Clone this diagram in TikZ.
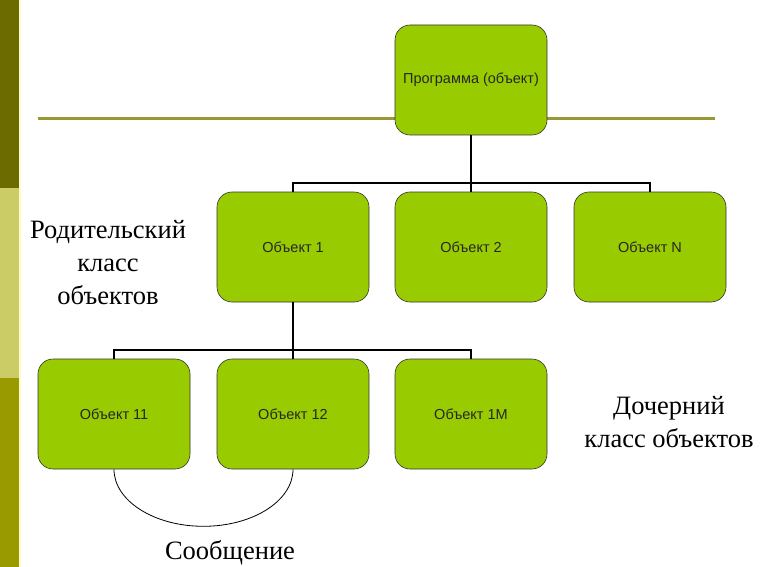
\documentclass[tikz,border=0pt]{standalone}
\usepackage{fontspec}
\setmainfont{Liberation Serif}
\newfontfamily\boxfont{Liberation Sans}
\begin{document}
\begin{tikzpicture}[x=1pt,y=-1pt,
  obj/.style={draw=black!80, line width=0.6pt, fill=boxgreen, rounded corners=15pt,
    minimum width=152pt, minimum height=110pt, font=\boxfont\fontsize{14.5}{16}\selectfont, text=black!85},
  conn/.style={draw=black, line width=2pt},
  lbl/.style={font=\fontsize{26.5}{33}\selectfont, align=center, text=black}]
\definecolor{boxgreen}{HTML}{99CC00}
\definecolor{stripeA}{HTML}{6B6B00}
\definecolor{stripeB}{HTML}{CCCC66}
\definecolor{stripeC}{HTML}{999900}
\definecolor{rulecol}{HTML}{999933}
\useasboundingbox (0,0) rectangle (766,567);
\fill[white] (0,0) rectangle (766,567);
\fill[stripeA] (0,0) rectangle (19,188);
\fill[stripeB] (0,188) rectangle (19,378);
\fill[stripeC] (0,378) rectangle (19,567);
\fill[yellow!20] (19,0) rectangle (21,567);
\draw[rulecol, line width=3pt] (38,119) -- (715,119);

\node[obj] (prog) at (471,80) {Программа (объект)};
\node[obj] (o1) at (293,247) {Объект 1};
\node[obj] (o2) at (471,247) {Объект 2};
\node[obj] (oN) at (650,247) {Объект N};
\node[obj] (o11) at (114,414) {Объект 11};
\node[obj] (o12) at (293,414) {Объект 12};
\node[obj] (o1M) at (471,414) {Объект 1M};

\coordinate (j1) at (471,183);
\coordinate (j2) at (293,350);
\draw[conn] (prog.south) -- (j1);
\draw[conn] (o1.north) -- (o1.north |- j1) -- (oN.north |- j1) -- (oN.north);
\draw[conn] (o2.north) -- (o2.north |- j1);
\draw[conn] (o1.south) -- (j2);
\draw[conn] (o11.north) -- (o11.north |- j2) -- (o1M.north |- j2) -- (o1M.north);
\draw[conn] (o12.north) -- (o12.north |- j2);

\draw[black, line width=0.8pt] (o11.south) arc[start angle=180, end angle=360, x radius=89.5, y radius=-57];

\node[lbl] (parent) at (108,263) {Родительский\\класс\\объектов};
\node[lbl] (child) at (669,422) {Дочерний\\класс объектов};
\node[lbl, anchor=base, inner sep=0pt] (msg) at (230,559) {Сообщение};
\end{tikzpicture}
\end{document}
